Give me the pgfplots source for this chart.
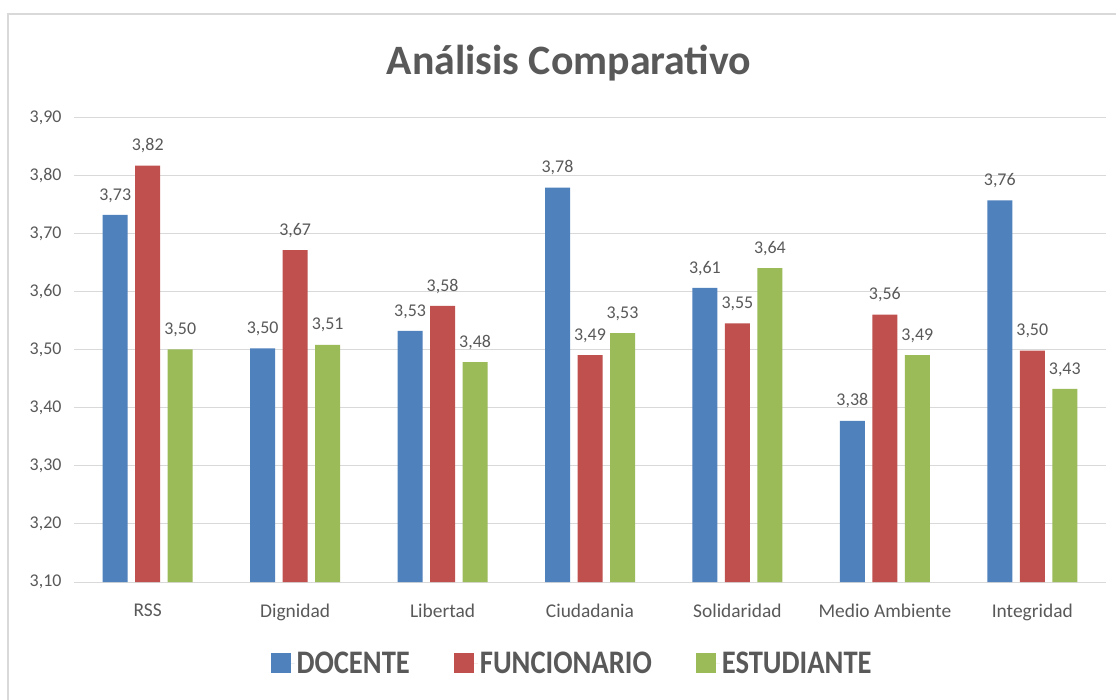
\documentclass[border=0pt]{standalone}
\usepackage{fontspec}
\setmainfont{Carlito}
\usepackage{graphicx}
\usepackage{pgfplots}
\pgfplotsset{compat=1.18}
\definecolor{cblue}{HTML}{4F81BD}
\definecolor{cred}{HTML}{C0504D}
\definecolor{cgreen}{HTML}{9BBB59}
\definecolor{txt}{HTML}{595959}
\definecolor{gridc}{HTML}{D9D9D9}
\newcommand{\legtxt}[1]{\scalebox{0.87}[1]{\bfseries #1}}
\begin{document}
\begin{tikzpicture}
\useasboundingbox (0,0) rectangle (1116bp,700bp);
\fill[white] (0,0) rectangle (1116bp,700bp);
\draw[gridc, line width=1.2bp] (8bp,-2bp) -- (8bp,686bp) -- (1118bp,686bp);
\node[anchor=base, text=txt, font=\fontsize{42}{50}\selectfont\bfseries] at (569bp,625bp) {Análisis Comparativo};
\begin{axis}[
  at={(74bp,118bp)}, anchor=south west,
  scale only axis, width=1032bp, height=464bp,
  ybar=7.5bp, bar width=25bp,
  xmin=-0.5, xmax=6.5, ymin=3.1, ymax=3.9,
  xtick={0,1,2,3,4,5,6},
  xticklabels={RSS,Dignidad,Libertad,Ciudadania,Solidaridad,Medio Ambiente,Integridad},
  ytick={3.1,3.2,3.3,3.4,3.5,3.6,3.7,3.8,3.9},
  ymajorgrids, grid style={gridc, line width=1bp},
  axis line style={draw=none},
  major tick length=0pt,
  /pgf/number format/assume math mode=true,
  ticklabel style={text=txt},
  yticklabel style={font=\fontsize{18}{21}\selectfont, /pgf/number format/fixed, /pgf/number format/fixed zerofill, /pgf/number format/precision=2, /pgf/number format/use comma, xshift=-9bp},
  xticklabel style={font=\fontsize{19.5}{23}\selectfont, yshift=-18bp},
  nodes near coords,
  nodes near coords style={font=\fontsize{18}{21}\selectfont, text=txt, yshift=9bp, /pgf/number format/fixed, /pgf/number format/fixed zerofill, /pgf/number format/precision=2, /pgf/number format/use comma},
  legend style={at={(0.4826,-0.175)}, anchor=center, draw=none, fill=none, legend columns=3, font=\fontsize{33}{38}\selectfont, text=txt, /tikz/every even column/.append style={column sep=42bp}},
  legend image code/.code={\fill[#1] (0bp,-10bp) rectangle (20bp,10bp); \path (20bp,0bp) -- (24bp,0bp);},
]
\addplot[fill=cblue, draw=none] coordinates {(0,3.733) (1,3.503) (2,3.533) (3,3.78) (4,3.607) (5,3.378) (6,3.758)};
\addplot[fill=cred, draw=none] coordinates {(0,3.818) (1,3.672) (2,3.576) (3,3.491) (4,3.546) (5,3.561) (6,3.499)};
\addplot[fill=cgreen, draw=none] coordinates {(0,3.501) (1,3.509) (2,3.479) (3,3.529) (4,3.641) (5,3.491) (6,3.433)};
\legend{\legtxt{DOCENTE},\legtxt{FUNCIONARIO},\legtxt{ESTUDIANTE}}
\end{axis}
\end{tikzpicture}
\end{document}
